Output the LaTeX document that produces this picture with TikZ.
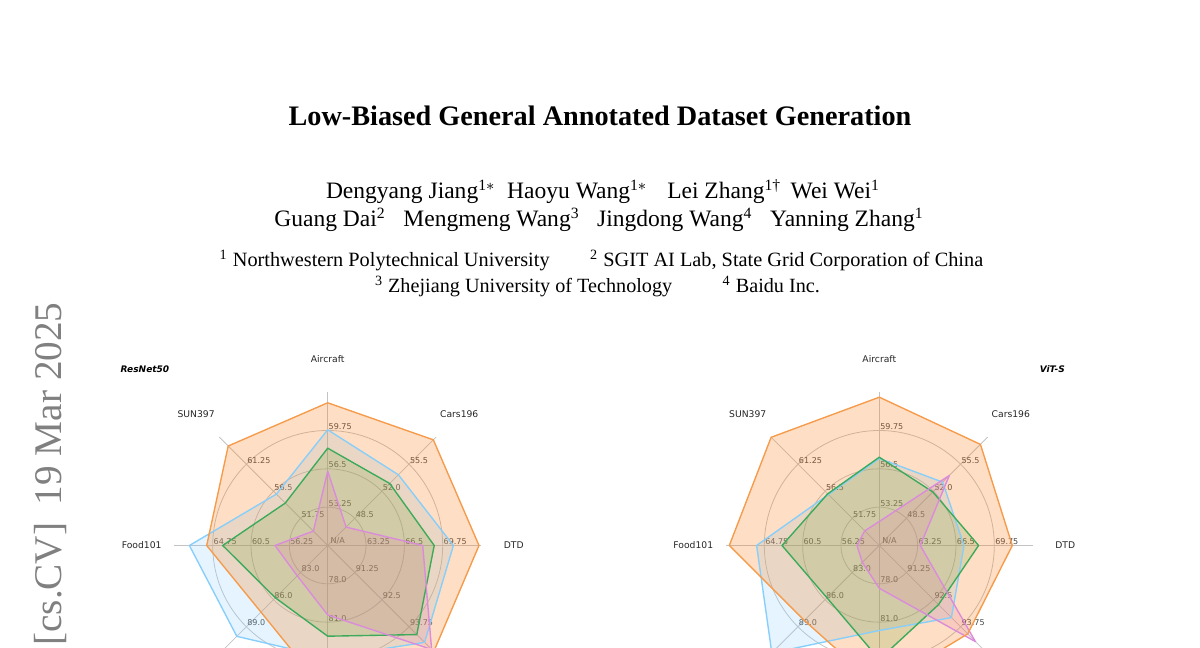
\documentclass[tikz,border=0pt]{standalone}
\usepackage{fontspec}
\setmainfont{Liberation Serif}
\newfontfamily\dv{DejaVu Sans}
\definecolor{oline}{RGB}{245,155,75}
\definecolor{ofill}{RGB}{250,130,30}
\definecolor{bline}{RGB}{135,206,250}
\definecolor{gline}{RGB}{60,170,90}
\definecolor{gfill}{RGB}{44,160,44}
\definecolor{pline}{RGB}{218,140,218}
\definecolor{pfill}{RGB}{218,112,214}
\definecolor{gridc}{RGB}{195,195,195}
\definecolor{tickc}{RGB}{70,70,70}
\definecolor{stampc}{RGB}{128,128,128}
\newcommand{\radargrid}{%
  \foreach \a in {0,45,...,315} \draw[gridln] (0,0) -- (\a:153.3);
  \foreach \r in {38.33,76.67,115} \draw[gridln] (0,0) circle (\r);
  \node[tick] (na) at (2,0) {N/A};
  \foreach \a/\p/\q/\s [count=\i] in {90/53.25/56.5/59.75, 45/48.5/52.0/55.5, 0/63.25/66.5/69.75, -45/91.25/92.5/93.75, -135/83.0/86.0/89.0, 180/56.25/60.5/64.75, 135/51.75/56.5/61.25}{
    \node[tick] (t\i a) at (\a:38.33) {\p};
    \node[tick] (t\i b) at (\a:76.67) {\q};
    \node[tick] (t\i c) at (\a:115) {\s};
  }
  \node[tick] (td a) at (-90:38.33) {78.0};
  \node[tick] (td b) at (-90:76.67) {81.0};
  \node[cat] (aircraft) at (90:186) {Aircraft};
  \node[cat] (cars) at (45:186) {Cars196};
  \node[cat] (dtd) at (0:186) {DTD};
  \node[cat] (food) at (180:186) {Food101};
  \node[cat] (sun) at (135:186) {SUN397};
}
\begin{document}
\begin{tikzpicture}[x=0.51pt,y=0.51pt,
  gridln/.style={draw=gridc, line width=0.4pt},
  tick/.style={font=\dv\fontsize{4.1}{4.5}\selectfont, text=tickc, inner sep=0.3pt, anchor=south west},
  cat/.style={font=\dv\fontsize{4.7}{5.5}\selectfont, text=black!85, inner sep=0},
  model/.style={font=\dv\bfseries\itshape\fontsize{4.6}{5.5}\selectfont, text=black, inner sep=0},
  ofl/.style={fill=ofill, fill opacity=0.26},
  bfl/.style={fill=bline, fill opacity=0.22},
  gfl/.style={fill=gfill, fill opacity=0.18},
  pfl/.style={fill=pfill, fill opacity=0.18},
  oln/.style={draw=oline, line width=0.7pt, line join=round},
  bln/.style={draw=bline, line width=0.7pt, line join=round},
  gln/.style={draw=gline, line width=0.7pt, line join=round},
  pln/.style={draw=pline, line width=0.7pt, line join=round},
  txt/.style={inner sep=0, anchor=base}
]
\useasboundingbox (0,0) rectangle (1200,648);
\clip (0,0) rectangle (1200,648);
% header
\node[txt, font=\fontsize{14.4}{17}\selectfont\bfseries] (title) at (600,522) {Low-Biased General Annotated Dataset Generation};
\node[txt, font=\fontsize{12}{14}\selectfont] (auth1) at (603,449) {Dengyang Jiang\textsuperscript{1$\ast$}\hspace{0.5em}Haoyu Wang\textsuperscript{1$\ast$}\hspace{0.85em}Lei Zhang\textsuperscript{1\textdagger}\hspace{0.4em}Wei Wei\textsuperscript{1}};
\node[txt, font=\fontsize{12}{14}\selectfont] (auth2) at (599,421) {Guang Dai\textsuperscript{2}\hspace{0.75em}Mengmeng Wang\textsuperscript{3}\hspace{0.75em}Jingdong Wang\textsuperscript{4}\hspace{0.75em}Yanning Zhang\textsuperscript{1}};
\node[txt, font=\fontsize{10.35}{12}\selectfont] (aff1) at (601.5,381) {\textsuperscript{1} Northwestern Polytechnical University\hspace{2em}\textsuperscript{2} SGIT AI Lab, State Grid Corporation of China};
\node[txt, font=\fontsize{10.3}{12}\selectfont] (aff2) at (597.5,355) {\textsuperscript{3} Zhejiang University of Technology\hspace{2.5em}\textsuperscript{4} Baidu Inc.};
\node[rotate=90, anchor=base east, inner sep=0, text=stampc, font=\fontsize{20}{22}\selectfont] (stamp) at (61.7,346) {[cs.CV]\hspace{0.2em} 19 Mar 2025};
% left chart
\begin{scope}[shift={(327.7,102.5)}, name prefix=L-]
  \radargrid
  \def\pO{(90:142.7) -- (45:149.4) -- (0:151.3) -- (-45:150) -- (-90:149) -- (-135:94.3) -- (180:121) -- (135:140.7) -- cycle}
  \def\pB{(90:115.7) -- (45:100) -- (0:125.7) -- (-45:137) -- (-90:112) -- (-135:128.5) -- (180:138.3) -- (135:72.6) -- cycle}
  \def\pG{(90:97.3) -- (45:87.7) -- (0:106.5) -- (-45:126) -- (-90:90.7) -- (-135:74) -- (180:105) -- (135:60) -- cycle}
  \def\pP{(90:74.3) -- (45:26) -- (0:95) -- (-45:147) -- (-90:69.5) -- (-135:43) -- (180:52.7) -- (135:20.3) -- cycle}
  \fill[bfl] \pB; \fill[gfl] \pG; \fill[pfl] \pP; \fill[ofl] \pO;
  \draw[bln] \pB; \draw[gln] \pG; \draw[pln] \pP; \draw[oln] \pO;
\end{scope}
\node[model] (resnet) at (145,279) {ResNet50};
% right chart
\begin{scope}[shift={(879.3,102.5)}, name prefix=R-]
  \radargrid
  \def\pO{(90:148.3) -- (45:143) -- (0:133) -- (-45:125) -- (-90:142) -- (-135:106) -- (180:150) -- (135:153) -- cycle}
  \def\pB{(90:87) -- (45:89.6) -- (0:84.7) -- (-45:102) -- (-90:85) -- (-135:152) -- (180:122.7) -- (135:72) -- cycle}
  \def\pG{(90:88.3) -- (45:75.7) -- (0:99.3) -- (-45:83.7) -- (-90:114) -- (-135:74) -- (180:97.3) -- (135:73) -- cycle}
  \def\pP{(90:24) -- (45:99) -- (0:41) -- (-45:136) -- (-90:42.8) -- (-135:24) -- (180:22.3) -- (135:20.7) -- cycle}
  \fill[bfl] \pB; \fill[gfl] \pG; \fill[pfl] \pP; \fill[ofl] \pO;
  \draw[bln] \pB; \draw[gln] \pG; \draw[pln] \pP; \draw[oln] \pO;
\end{scope}
\node[model] (vit) at (1052.3,279) {ViT-S};
\end{tikzpicture}
\end{document}
